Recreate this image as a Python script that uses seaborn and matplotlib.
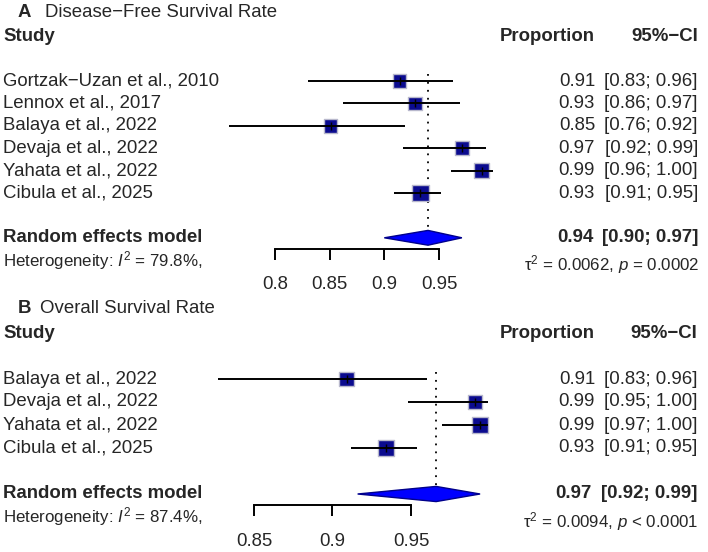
import matplotlib
matplotlib.use("Agg")
import matplotlib.pyplot as plt
import seaborn as sns
import numpy as np
import pandas as pd
from matplotlib.patches import Polygon
from matplotlib.transforms import blended_transform_factory

# ---------------- data ----------------
studies_A = ["Gortzak\u2212Uzan et al., 2010", "Lennox et al., 2017", "Balaya et al., 2022",
             "Devaja et al., 2022", "Yahata et al., 2022", "Cibula et al., 2025"]
prop_A = [0.914, 0.928, 0.851, 0.971, 0.989, 0.933]
lower_A = [0.830, 0.862, 0.758, 0.917, 0.961, 0.909]
upper_A = [0.963, 0.969, 0.919, 0.993, 0.999, 0.952]
weight_A = [14.3, 14.3, 14.3, 16.6, 19.0, 21.6]
pooled_A = [0.940, 0.900, 0.971]          # estimate, lower, upper
i2_A = "79.8%"
tau2_A = "0.0062"
p_A = "= 0.0002"
ticks_A = [0.8, 0.85, 0.9, 0.95]
ticklabels_A = ["0.8", "0.85", "0.9", "0.95"]

studies_B = ["Balaya et al., 2022", "Devaja et al., 2022", "Yahata et al., 2022", "Cibula et al., 2025"]
prop_B = [0.909, 0.991, 0.994, 0.934]
lower_B = [0.827, 0.948, 0.970, 0.912]
upper_B = [0.960, 0.999, 0.999, 0.954]
weight_B = [22.4, 21.1, 26.5, 29.9]
pooled_B = [0.966, 0.916, 0.994]
i2_B = "87.4%"
tau2_B = "0.0094"
p_B = "< 0.0001"
ticks_B = [0.85, 0.9, 0.95]
ticklabels_B = ["0.85", "0.9", "0.95"]

# ---------------- style ----------------
sns.set_theme(style="white")
plt.rcParams["font.family"] = ["Liberation Sans", "DejaVu Sans"]
plt.rcParams["mathtext.fontset"] = "custom"
plt.rcParams["mathtext.rm"] = "Liberation Sans"
plt.rcParams["mathtext.it"] = "Liberation Sans:italic"
plt.rcParams["mathtext.bf"] = "Liberation Sans:bold"

W, H = 708, 552
FS = 13.4
FS_HET = 12.2
fig = plt.figure(figsize=(W / 100, H / 100), dpi=100)
fig.patch.set_facecolor("white")


def fx(px):
    return px / W


def panel(row0_px, row_px, letter, title, title_x, studies, prop, lower, upper, weight,
          pooled, i2, tau2, pval, ticks, ticklabels, x_at_first_tick, px_per_unit,
          prop_right, ci_right, pooled_right, tau_right, y_top, y_bot_extra):
    n = len(studies)
    y_bot = n + y_bot_extra
    top_px = row0_px + y_top * row_px
    height_px = (y_bot - y_top) * row_px
    ax = fig.add_axes([0, 1 - (top_px + height_px) / H, 1, height_px / H])
    ax.set_facecolor("none")
    x0 = ticks[0] - x_at_first_tick / px_per_unit
    x1 = ticks[0] + (W - x_at_first_tick) / px_per_unit
    ax.set_xlim(x0, x1)
    ax.set_ylim(y_bot, y_top)
    tr = blended_transform_factory(ax.transAxes, ax.transData)

    rows = np.arange(n)
    w = np.asarray(weight, dtype=float)
    side_px = 16.5 * np.sqrt(w / w.max())
    area = (side_px * 0.72) ** 2
    df = pd.DataFrame({"prop": prop, "row": rows, "area": area})

    # dotted line at pooled estimate
    diamond_h = 0.33
    ax.vlines(pooled[0], -0.3, n + 1 - diamond_h, colors="black", linewidth=1.3,
              linestyles=(0, (1, 3.4)), zorder=1)

    # squares (weights)
    sns.scatterplot(data=df, x="prop", y="row", size="area",
                    sizes=(area.min(), area.max()), size_norm=(area.min(), area.max()),
                    marker="s", color="#0b0b8f", edgecolor="#b8b8cc", linewidth=1.0,
                    legend=False, ax=ax, zorder=2)
    # CI lines
    ax.hlines(rows, lower, upper, colors="black", linewidth=1.4, zorder=3)
    ax.scatter(prop, rows, marker="|", s=30, color="black", linewidth=1.0, zorder=4)

    # diamond
    r = n + 1
    dia = Polygon([[pooled[1], r], [pooled[0], r - diamond_h], [pooled[2], r],
                   [pooled[0], r + diamond_h]], closed=True, facecolor="#0000ff",
                  edgecolor="#00008b", linewidth=1.0, zorder=3)
    ax.add_patch(dia)

    # axis
    ax.set_xticks(ticks)
    ax.set_xticklabels(ticklabels)
    ax.set_yticks([])
    for s in ["top", "left", "right"]:
        ax.spines[s].set_visible(False)
    ax.spines["bottom"].set_visible(True)
    ax.spines["bottom"].set_position(("data", n + 1.48))
    ax.spines["bottom"].set_bounds(ticks[0], ticks[-1])
    ax.spines["bottom"].set_color("black")
    ax.spines["bottom"].set_linewidth(1.4)
    ax.tick_params(axis="x", which="both", direction="out", length=8, width=1.4,
                   color="black", labelsize=FS, pad=12, bottom=True)
    ax.set_xlabel("")
    ax.set_ylabel("")

    # texts
    ax.text(fx(18), -3.05, letter, transform=tr, ha="left", va="center",
            fontsize=FS, fontweight="bold")
    ax.text(fx(title_x), -3.05, title, transform=tr, ha="left", va="center", fontsize=FS)
    ax.text(fx(3), -2, "Study", transform=tr, ha="left", va="center",
            fontsize=FS, fontweight="bold")
    ax.text(fx(prop_right), -2, "Proportion", transform=tr, ha="right", va="center",
            fontsize=FS, fontweight="bold")
    ax.text(fx(ci_right), -2, "95%\u2212CI", transform=tr, ha="right", va="center",
            fontsize=FS, fontweight="bold")
    for i in range(n):
        ax.text(fx(3), i, studies[i], transform=tr, ha="left", va="center", fontsize=FS)
        ax.text(fx(prop_right), i, f"{prop[i]:.2f}", transform=tr, ha="right",
                va="center", fontsize=FS)
        ax.text(fx(ci_right), i, f"[{lower[i]:.2f}; {upper[i]:.2f}]", transform=tr,
                ha="right", va="center", fontsize=FS)
    ax.text(fx(3), r, "Random effects model", transform=tr, ha="left", va="center",
            fontsize=FS, fontweight="bold")
    ax.text(fx(pooled_right), r, f"{pooled[0]:.2f}", transform=tr, ha="right",
            va="center", fontsize=FS, fontweight="bold")
    ax.text(fx(ci_right), r, f"[{pooled[1]:.2f}; {pooled[2]:.2f}]", transform=tr,
            ha="right", va="center", fontsize=FS, fontweight="bold")
    ax.text(fx(3), r + 1, "Heterogeneity: $\\mathit{I}^2$ = " + i2 + ",", transform=tr,
            ha="left", va="center", fontsize=FS_HET)
    ax.text(fx(tau_right), r + 1.2, "\u03c4$^2$ = " + tau2 + ", $\\mathit{p}$ " + pval,
            transform=tr, ha="right", va="center", fontsize=FS_HET)
    return ax


panel(81, 22.4, "A", "Disease\u2212Free Survival Rate", 45, studies_A, prop_A, lower_A,
      upper_A, weight_A, pooled_A, i2_A, tau2_A, p_A, ticks_A, ticklabels_A, 275, 1093,
      595, 698, 594, 700, -3.6, 9.6 - 6)
panel(379, 23.0, "B", "Overall Survival Rate", 40, studies_B, prop_B, lower_B, upper_B,
      weight_B, pooled_B, i2_B, tau2_B, p_B, ticks_B, ticklabels_B, 254, 1570,
      595, 697, 592, 698, -3.55, 3.45)

fig.savefig("out.png", dpi=100, facecolor="white")
